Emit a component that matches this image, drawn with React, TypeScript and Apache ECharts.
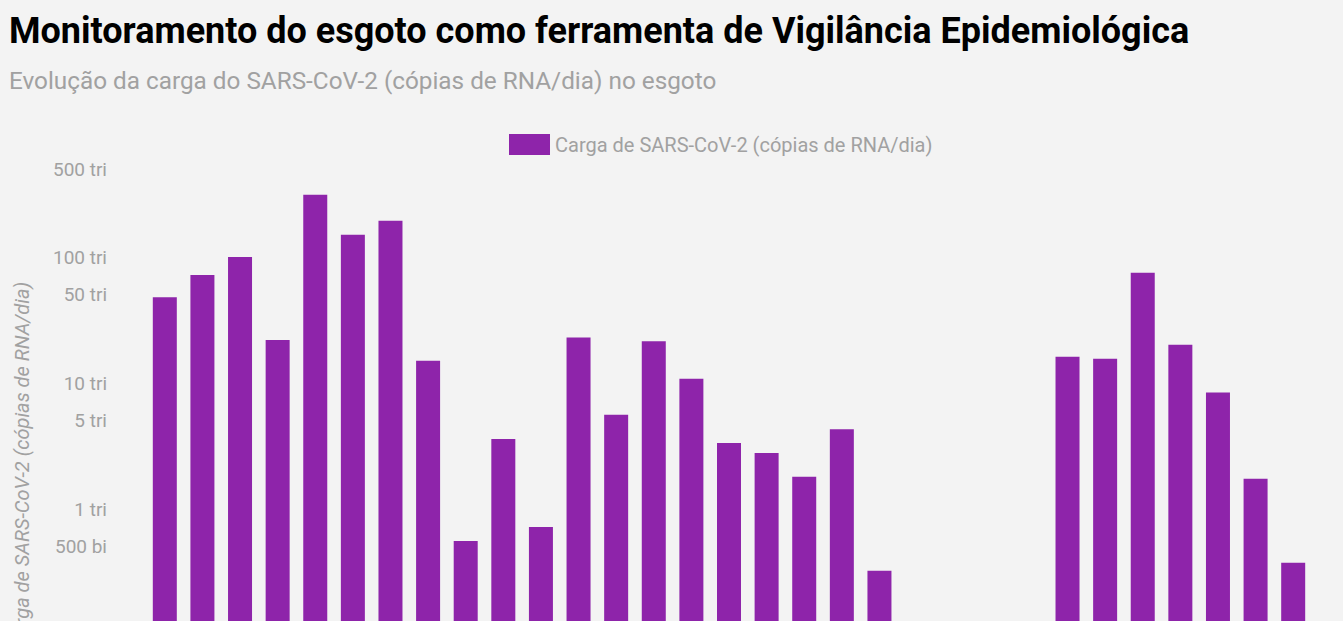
import React, { useEffect, useRef } from "react";
import * as echarts from "echarts";

const categories: string[] = [
  "S01", "S02", "S03", "S04", "S05", "S06", "S07", "S08", "S09", "S10",
  "S11", "S12", "S13", "S14", "S15", "S16", "S17", "S18", "S19", "S20",
  "S21", "S22", "S23", "S24", "S25", "S26", "S27", "S28", "S29", "S30", "S31",
];

// Carga em trilhões de cópias de RNA/dia (null = sem coleta)
const cargaTri: (number | null)[] = [
  48, 72, 100, 22, 312, 150, 194, 15, 0.557, 3.6,
  0.72, 23, 5.6, 21.5, 10.8, 3.34, 2.78, 1.8, 4.3, 0.324,
  null, null, null, null, 16.2, 15.6, 75, 20.1, 8.4, 1.74, 0.375,
];

const yTickValues: number[] = [5e11, 1e12, 5e12, 1e13, 5e13, 1e14, 5e14];
const yMin = 1e10;
const yMax = 5e14;

const title = "Monitoramento do esgoto como ferramenta de Vigilância Epidemiológica";
const subtitle = "Evolução da carga do SARS-CoV-2 (cópias de RNA/dia) no esgoto";
const seriesName = "Carga de SARS-CoV-2 (cópias de RNA/dia)";

function fmt(logV: number): string {
  const v = Math.pow(10, logV);
  if (v >= 1e12 - 1) return `${Math.round(v / 1e12)} tri`;
  return `${Math.round(v / 1e9)} bi`;
}

export default function App() {
  const ref = useRef<HTMLDivElement>(null);
  useEffect(() => {
    document.body.style.margin = "0";
    document.body.style.overflow = "hidden";
    document.documentElement.style.overflow = "hidden";
    const chart = echarts.init(ref.current!, undefined, { renderer: "svg" });
    const font = "Roboto";
    chart.setOption({
      animation: false,
      backgroundColor: "#f3f3f3",
      textStyle: { fontFamily: font },
      title: [
        {
          text: title,
          left: 4,
          top: 8,
          textStyle: { fontFamily: font, fontWeight: "bold", fontSize: 36, color: "#000" },
        },
        {
          text: subtitle,
          left: 4,
          top: 63,
          textStyle: { fontFamily: font, fontWeight: "normal", fontSize: 24.3, color: "#a1a1a1" },
        },
      ],
      legend: {
        top: 129,
        left: 504,
        itemWidth: 41,
        itemHeight: 21,
        icon: "rect",
        textStyle: { fontFamily: font, fontSize: 20, color: "#a1a1a1" },
        data: [seriesName],
      },
      grid: { left: 146, right: 31, top: 169, bottom: 59 },
      xAxis: {
        type: "category",
        data: categories,
        axisLine: { show: false },
        axisTick: { show: false },
        axisLabel: { show: false },
      },
      yAxis: {
        type: "value",
        min: Math.log10(yMin),
        max: Math.log10(yMax),
        name: seriesName,
        nameLocation: "middle",
        nameGap: 114,
        nameTextStyle: { fontFamily: font, fontSize: 20, fontStyle: "italic", color: "#a1a1a1" },
        splitLine: { show: false },
        axisLine: { show: false },
        axisTick: { show: false },
        axisLabel: {
          customValues: yTickValues.map((v) => Math.log10(v)),
          formatter: (v: number) => fmt(v),
          margin: 39,
          fontFamily: font,
          fontSize: 19,
          color: "#a1a1a1",
        },
      },
      series: [
        {
          name: seriesName,
          type: "bar",
          barWidth: 24,
          itemStyle: { color: "#8e24aa" },
          data: cargaTri.map((v) => (v == null ? "-" : Math.log10(v * 1e12))),
        },
      ],
    });
    return () => chart.dispose();
  }, []);
  return <div ref={ref} style={{ width: 1343, height: 820 }} />;
}
